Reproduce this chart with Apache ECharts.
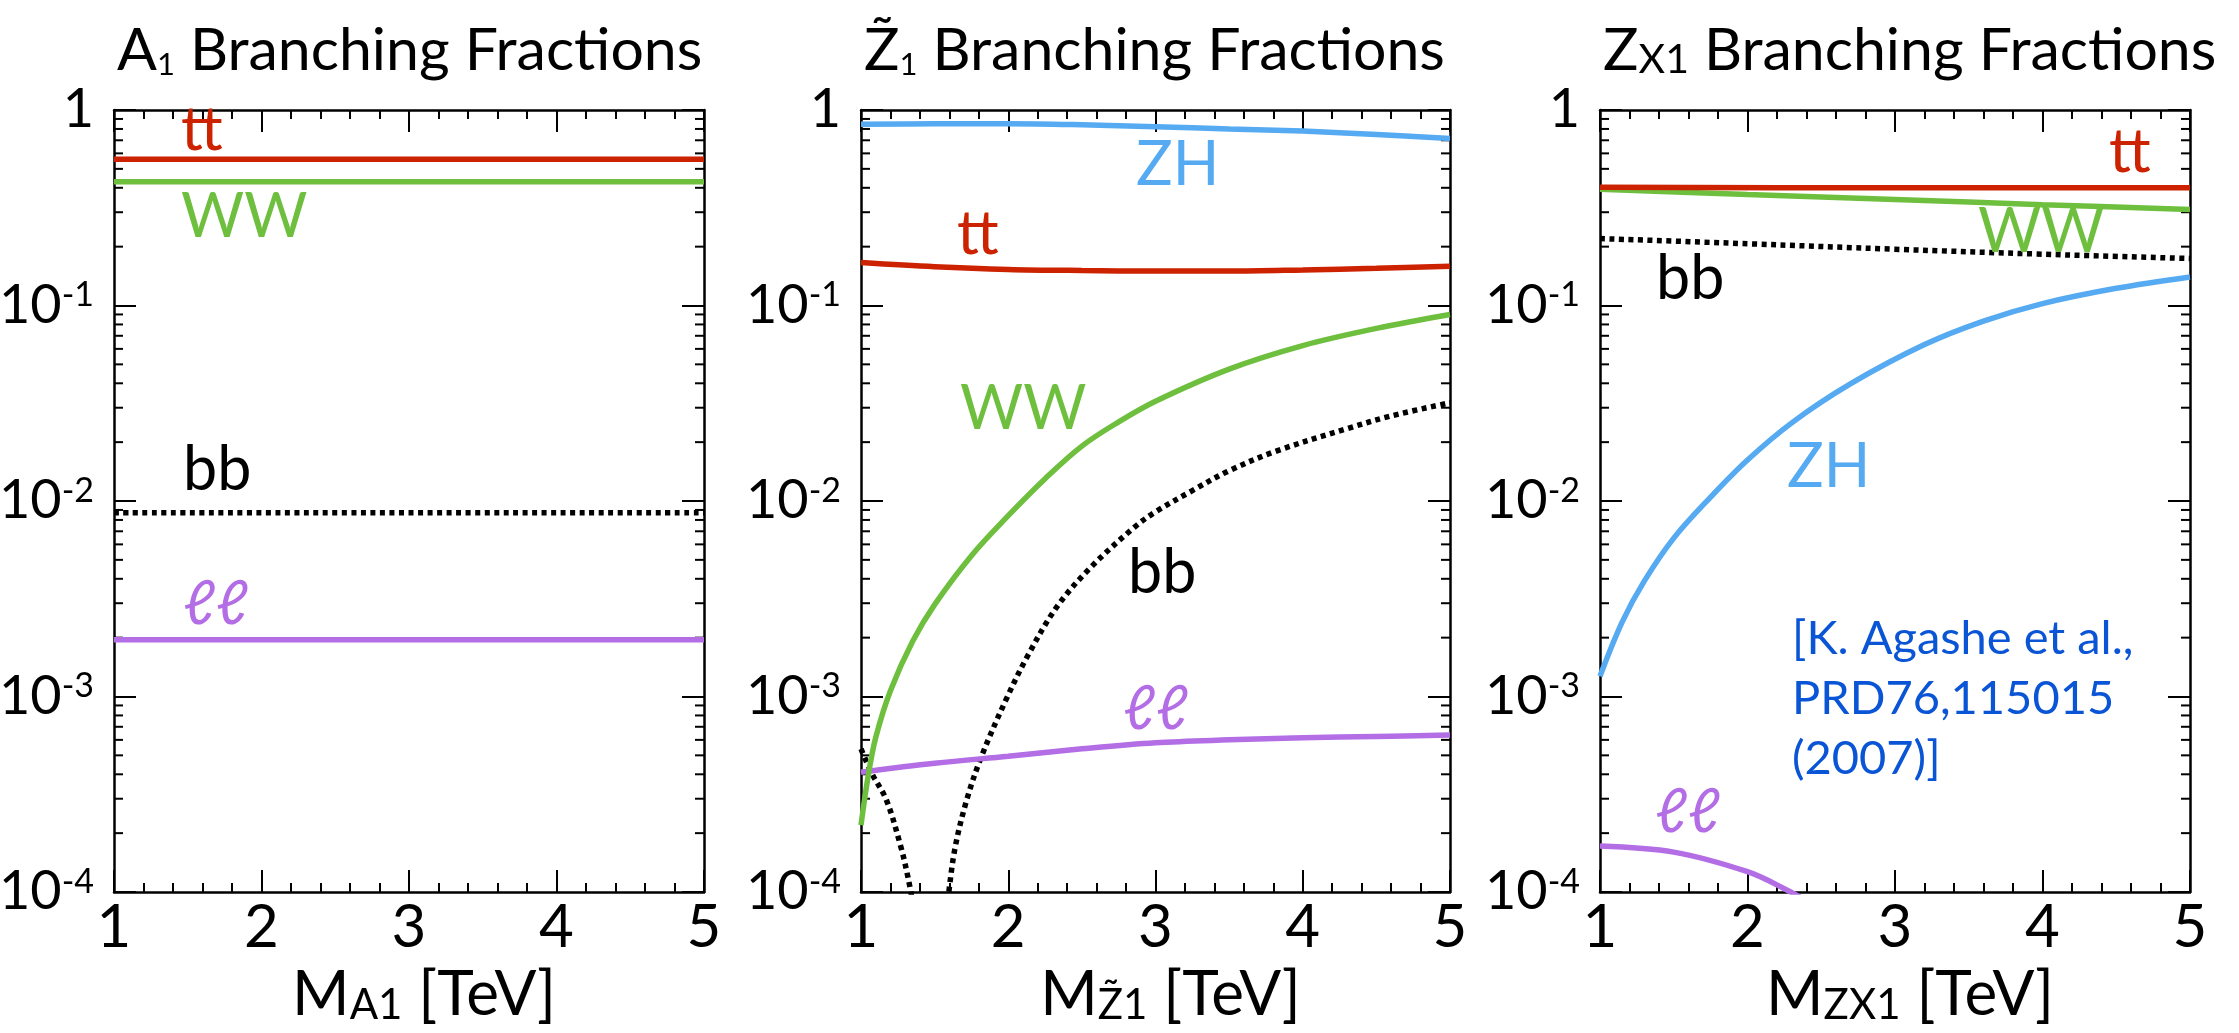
<!DOCTYPE html>
<html><head><meta charset="utf-8">
<script src="https://cdn.jsdelivr.net/npm/echarts@6/dist/echarts.min.js"></script>
<style>html,body{margin:0;padding:0;background:#fff}#c{width:2239px;height:1033px}</style>
</head><body><div id="c"></div>
<script>
const FONT = 'Lato';
const X_MIN = 1, X_MAX = 5, X_INTERVAL = 1;
const Y_MIN = 1e-4, Y_MAX = 1;
const Y_MINOR = [2e-4,3e-4,4e-4,5e-4,6e-4,7e-4,8e-4,9e-4,
                 2e-3,3e-3,4e-3,5e-3,6e-3,7e-3,8e-3,9e-3,
                 2e-2,3e-2,4e-2,5e-2,6e-2,7e-2,8e-2,9e-2,
                 0.2,0.3,0.4,0.5,0.6,0.7,0.8,0.9];

// Panel 1 : A1
const A1_TT = [[1,0.56],[5,0.56]];
const A1_WW = [[1,0.43],[5,0.43]];
const A1_BB = [[1,0.0087],[5,0.0087]];
const A1_LL = [[1,0.00195],[5,0.00195]];

// Panel 2 : Z~1
const Z1_ZH = [[1,0.845],[1.5,0.85],[2,0.85],[2.5,0.84],[3,0.822],[3.5,0.80],[4,0.78],[4.5,0.75],[5,0.715]];
const Z1_TT = [[1,0.166],[1.5,0.158],[2,0.153],[2.5,0.151],[3,0.150],[3.5,0.150],[4,0.152],[4.5,0.155],[5,0.159]];
const Z1_WW = [[1,2.2e-4],[1.05,3.98e-4],[1.1,6.17e-4],[1.2,1.07e-3],[1.35,1.91e-3],[1.5,2.95e-3],[1.75,5.25e-3],[2.0,8.41e-3],[2.25,0.0130],[2.5,0.0191],[2.75,0.0254],[3.0,0.0324],[3.5,0.0473],[4.0,0.0624],[4.5,0.0764],[5.0,0.0900]];
const Z1_BB_LOW = [[1,5.4e-4],[1.073,4.05e-4],[1.172,2.96e-4],[1.27,1.71e-4],[1.32,1.18e-4],[1.355,8.5e-5]];
const Z1_BB_HIGH = [[1.59,9e-5],[1.636,1.64e-4],[1.718,2.96e-4],[1.818,4.93e-4],[1.984,9.6e-4],[2.133,1.62e-3],[2.331,2.88e-3],[2.563,4.6e-3],[2.862,7.4e-3],[3.0,8.8e-3],[3.25,0.0113],[3.5,0.01429],[3.82,0.018],[4.3,0.02344],[4.6,0.02723],[5.0,0.0318]];
const Z1_LL = [[1,4.1e-4],[1.5,4.55e-4],[2,4.95e-4],[2.5,5.4e-4],[3,5.8e-4],[3.5,6.0e-4],[4,6.15e-4],[4.5,6.25e-4],[5,6.35e-4]];

// Panel 3 : ZX1
const ZX_TT = [[1,0.402],[3,0.40],[5,0.40]];
const ZX_WW = [[1,0.393],[2,0.37],[3,0.349],[4,0.328],[5,0.31]];
const ZX_BB = [[1,0.22],[2,0.207],[3,0.194],[4,0.183],[5,0.174]];
const ZX_ZH = [[1,0.00127],[1.15,0.0024],[1.3,0.00389],[1.5,0.00646],[1.75,0.01047],[2.0,0.0162],[2.3,0.0251],[2.7,0.0398],[3.2,0.0631],[3.6,0.0832],[4.0,0.1023],[4.5,0.1225],[5.0,0.140]];
const ZX_LL = [[1,1.72e-4],[1.5,1.6e-4],[2,1.27e-4],[2.25,1.04e-4],[2.4,9.0e-5]];

const C_RED = '#cc2200', C_GREEN = '#6fbf3f', C_BLUE = '#55aaf2', C_PURPLE = '#b36ee6', C_BLACK = '#000';

const GRIDS = [
  {left:114, top:110, width:590, height:782},
  {left:861, top:110, width:589, height:782},
  {left:1600, top:110, width:590, height:782}
];
const TITLES = [
  '{a|A}{s|1}{a| Branching Fractions}',
  '{a|Z\u0303}{s|1}{a| Branching Fractions}',
  '{a|Z}{x|X1}{a| Branching Fractions}'
];
const XNAMES = [
  '{m|M}{s|A1}{m| [TeV]}',
  '{m|M}{s|Z\u03031}{m| [TeV]}',
  '{m|M}{s|ZX1}{m| [TeV]}'
];

const chart = echarts.init(document.getElementById('c'), null, {renderer:'canvas'});

const xAxes = [], yAxes = [], series = [], titles = [];
GRIDS.forEach((g, i) => {
  const common = {gridIndex:i, type:'value', min:X_MIN, max:X_MAX, interval:X_INTERVAL,
    axisLine:{show:true, onZero:false, lineStyle:{color:'#000', width:2.5}},
    axisTick:{show:true, inside:true, length:22, lineStyle:{color:'#000', width:2}},
    minorTick:{show:true, splitNumber:5, length:9, lineStyle:{color:'#000', width:2}},
    splitLine:{show:false}, minorSplitLine:{show:false}};
  xAxes.push(Object.assign({}, common, {position:'bottom',
    name: XNAMES[i], nameLocation:'middle', nameGap:72,
    nameTextStyle:{fontFamily:FONT, color:'#000', padding:[0,0,0,30],
      rich:{m:{fontFamily:FONT, fontSize:62, color:'#000'}, s:{fontFamily:FONT, fontSize:42, color:'#000', verticalAlign:'bottom'}}},
    axisLabel:{show:true, margin:6, fontFamily:FONT, fontSize:60, color:'#000', showMinLabel:true, showMaxLabel:true}}));
  xAxes.push(Object.assign({}, common, {position:'top', axisLabel:{show:false}}));
  const ycommon = {gridIndex:i, type:'log', logBase:10, min:Y_MIN, max:Y_MAX,
    axisLine:{show:true, onZero:false, lineStyle:{color:'#000', width:2.5}},
    axisTick:{show:true, inside:true, length:22, lineStyle:{color:'#000', width:2}},
    splitLine:{show:false}};
  yAxes.push(Object.assign({}, ycommon, {position:'left',
    axisLabel:{show:true, margin:20, showMinLabel:true, showMaxLabel:true,
      formatter: v => { const e = Math.round(Math.log10(v)); return e === 0 ? '{b|1}' : '{b|10}{s|' + e + '}'; },
      rich:{b:{fontFamily:FONT, fontSize:54, color:'#000'}, s:{fontFamily:FONT, fontSize:34, color:'#000', verticalAlign:'top'}}}}));
  yAxes.push(Object.assign({}, ycommon, {position:'right', axisLabel:{show:false}}));
  titles.push({text:TITLES[i], left:g.left - 2, top:16,
    textStyle:{fontFamily:FONT, fontSize:59, fontWeight:'normal', color:'#000',
      rich:{a:{fontFamily:FONT, fontSize:59, fontWeight:'normal', color:'#000'},
            s:{fontFamily:FONT, fontSize:31, fontWeight:'normal', color:'#000', verticalAlign:'bottom'},
            x:{fontFamily:FONT, fontSize:41, fontWeight:'normal', color:'#000', verticalAlign:'bottom'}}}});
  // minor log ticks on left and right
  series.push({type:'custom', xAxisIndex:2*i, yAxisIndex:2*i, silent:true, clip:false,
    data: Y_MINOR.map(v => [X_MIN, v]),
    renderItem: (params, api) => {
      const v = api.value(1);
      const pL = api.coord([X_MIN, v]);
      const pR = api.coord([X_MAX, v]);
      return {type:'group', children:[
        {type:'line', shape:{x1:pL[0], y1:pL[1], x2:pL[0]+9, y2:pL[1]}, style:{stroke:'#000', lineWidth:2}},
        {type:'line', shape:{x1:pR[0]-9, y1:pR[1], x2:pR[0], y2:pR[1]}, style:{stroke:'#000', lineWidth:2}}
      ]};
    }});
});

function line(i, data, color, dotted, z) {
  return {type:'line', xAxisIndex:2*i, yAxisIndex:2*i, data:data, showSymbol:false, symbol:'none',
    smooth:0.35, clip:true, z:z || 2, animation:false,
    lineStyle:{color:color, width: 5.5, type: dotted ? [5,4.5] : 'solid', cap:'butt'}};
}
series.push(line(0, A1_TT, C_RED));
series.push(line(0, A1_WW, C_GREEN));
series.push(line(0, A1_BB, C_BLACK, true));
series.push(line(0, A1_LL, C_PURPLE));

series.push(line(1, Z1_ZH, C_BLUE));
series.push(line(1, Z1_TT, C_RED));
series.push(line(1, Z1_BB_LOW, C_BLACK, true));
series.push(line(1, Z1_BB_HIGH, C_BLACK, true));
series.push(line(1, Z1_LL, C_PURPLE));
series.push(line(1, Z1_WW, C_GREEN, false, 3));

series.push(line(2, ZX_BB, C_BLACK, true));
series.push(line(2, ZX_WW, C_GREEN));
series.push(line(2, ZX_TT, C_RED));
series.push(line(2, ZX_ZH, C_BLUE));
series.push(line(2, ZX_LL, C_PURPLE));

// curve labels: [text, color, left, baseline]
const LABELS = [
  ['tt', C_RED, 181, 154], ['WW', C_GREEN, 181, 241], ['bb', C_BLACK, 183, 494], ['\u2113\u2113', C_PURPLE, 183, 628],
  ['ZH', C_BLUE, 1136, 189], ['tt', C_RED, 957, 258], ['WW', C_GREEN, 960, 433], ['bb', C_BLACK, 1128, 597], ['\u2113\u2113', C_PURPLE, 1123, 733],
  ['tt', C_RED, 2109, 176], ['WW', C_GREEN, 1978, 256], ['bb', C_BLACK, 1656, 303], ['ZH', C_BLUE, 1787, 491], ['\u2113\u2113', C_PURPLE, 1655, 836]
];
const LABEL_SIZE = 61;
const REF_LINES = ['[K. Agashe et al.,', 'PRD76,115015', '(2007)]'];
const REF_SIZE = 47;
const graphics = LABELS.map(l => ({type:'text', x:l[2], y:l[3] - 0.38*LABEL_SIZE, z:10,
  style:{text:l[0], fill:l[1], font: LABEL_SIZE + 'px ' + FONT, verticalAlign:'middle', align:'left'}}));
REF_LINES.forEach((t, k) => graphics.push({type:'text', x:1792, y:657 + 60*k - 0.38*REF_SIZE, z:10,
  style:{text:t, fill:'#0a55d5', font: REF_SIZE + 'px ' + FONT, verticalAlign:'middle', align:'left'}}));

chart.setOption({
  animation:false,
  backgroundColor:'#fff',
  title: titles,
  grid: GRIDS.map(g => Object.assign({containLabel:false, outerBoundsMode:'none'}, g)),
  xAxis: xAxes,
  yAxis: yAxes,
  series: series,
  graphic: graphics
});
</script></body></html>
